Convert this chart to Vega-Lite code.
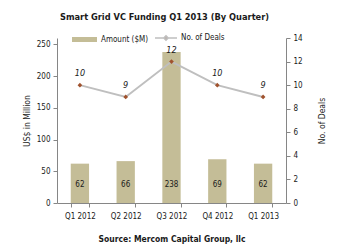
{
  "$schema": "https://vega.github.io/schema/vega-lite/v6.json",
  "width": 229,
  "height": 165,
  "autosize": {"type": "none"},
  "padding": {"left": 57, "top": 38, "right": 55, "bottom": 48},
  "background": "white",
  "title": {
    "text": "Smart Grid VC Funding Q1 2013 (By Quarter)",
    "font": "DejaVu Sans Condensed",
    "fontSize": 9.2,
    "fontWeight": "bold",
    "color": "#1a1a1a",
    "anchor": "middle",
    "dx": -7,
    "offset": 4
  },
  "config": {
    "view": {"stroke": null},
    "font": "DejaVu Sans Condensed",
    "axis": {
      "labelFont": "DejaVu Sans Condensed",
      "labelFontSize": 8,
      "labelColor": "#1a1a1a",
      "titleFont": "DejaVu Sans Condensed",
      "titleFontSize": 8.5,
      "titleFontWeight": "normal",
      "titleColor": "#1a1a1a",
      "domainColor": "#868686",
      "tickColor": "#868686",
      "tickSize": 4,
      "grid": false,
      "labelOverlap": false
    },
    "legend": {
      "labelFont": "DejaVu Sans Condensed",
      "labelFontSize": 8,
      "labelColor": "#1a1a1a"
    }
  },
  "data": {
    "values": [
      {"quarter": "Q1 2012", "amount": 62, "deals": 10, "amountSeries": "Amount ($M)", "dealSeries": "No. of Deals"},
      {"quarter": "Q2 2012", "amount": 66, "deals": 9, "amountSeries": "Amount ($M)", "dealSeries": "No. of Deals"},
      {"quarter": "Q3 2012", "amount": 238, "deals": 12, "amountSeries": "Amount ($M)", "dealSeries": "No. of Deals"},
      {"quarter": "Q4 2012", "amount": 69, "deals": 10, "amountSeries": "Amount ($M)", "dealSeries": "No. of Deals"},
      {"quarter": "Q1 2013", "amount": 62, "deals": 9, "amountSeries": "Amount ($M)", "dealSeries": "No. of Deals"}
    ]
  },
  "encoding": {
    "x": {
      "field": "quarter",
      "type": "nominal",
      "sort": null,
      "scale": {"paddingInner": 0.6, "paddingOuter": 0.3},
      "axis": {
        "title": "Source: Mercom Capital Group, llc",
        "titleFontWeight": "bold",
        "titleFontSize": 8.5,
        "titlePadding": 14,
        "labelAngle": 0,
        "labelPadding": 5,
        "tickBand": "extent"
      }
    }
  },
  "layer": [
    {
      "layer": [
        {
          "mark": {"type": "bar"},
          "encoding": {
            "y": {
              "field": "amount",
              "type": "quantitative",
              "scale": {"domain": [0, 250]},
              "axis": {
                "title": "US$ in Million",
                "values": [0, 50, 100, 150, 200, 250],
                "labelPadding": 3,
                "titlePadding": 5
              }
            },
            "fill": {
              "field": "amountSeries",
              "type": "nominal",
              "scale": {"range": ["#c4bd97"]},
              "legend": {
                "title": null,
                "orient": "none",
                "legendX": 14,
                "legendY": -12,
                "symbolType": "M-1,-0.2H1V0.2H-1Z",
                "symbolSize": 625,
                "symbolOpacity": 1,
                "labelOffset": 3
              }
            }
          }
        },
        {
          "mark": {"type": "text", "dy": -18, "fontSize": 8, "color": "#1a1a1a"},
          "encoding": {
            "y": {
              "datum": 0,
              "type": "quantitative",
              "axis": {
                "title": "US$ in Million",
                "values": [0, 50, 100, 150, 200, 250],
                "labelPadding": 3,
                "titlePadding": 5
              }
            },
            "text": {"field": "amount", "type": "quantitative"}
          }
        }
      ]
    },
    {
      "encoding": {
        "y": {
          "field": "deals",
          "type": "quantitative",
          "scale": {"domain": [0, 14]},
          "axis": {
            "title": "No. of Deals",
            "orient": "right",
            "values": [0, 2, 4, 6, 8, 10, 12, 14],
            "labelPadding": 3,
            "titleAngle": 270,
            "titlePadding": 24
          }
        }
      },
      "layer": [
        {
          "mark": {"type": "line", "strokeWidth": 2},
          "encoding": {
            "stroke": {
              "field": "dealSeries",
              "type": "nominal",
              "scale": {"range": ["#bfbfbf"]},
              "legend": {
                "title": null,
                "orient": "none",
                "legendX": 97,
                "legendY": -12,
                "symbolType": "M-1,0H1M0,-0.2L0.2,0L0,0.2L-0.2,0Z",
                "symbolSize": 484,
                "symbolStrokeWidth": 1.5,
                "symbolFillColor": "#a0522d",
                "labelOffset": 3,
                "encode": {"symbols": {"update": {"fill": {"value": "#a0522d"}, "fillOpacity": {"value": 1}}}}
              }
            }
          }
        },
        {
          "mark": {"type": "point", "shape": "diamond", "filled": true, "size": 22, "color": "#a0522d", "opacity": 1}
        },
        {
          "mark": {"type": "text", "dy": -12, "fontSize": 9, "fontStyle": "italic", "color": "#1a1a1a"},
          "encoding": {
            "text": {"field": "deals", "type": "quantitative"}
          }
        }
      ]
    }
  ],
  "resolve": {"scale": {"y": "independent", "fill": "independent", "stroke": "independent"}}
}
